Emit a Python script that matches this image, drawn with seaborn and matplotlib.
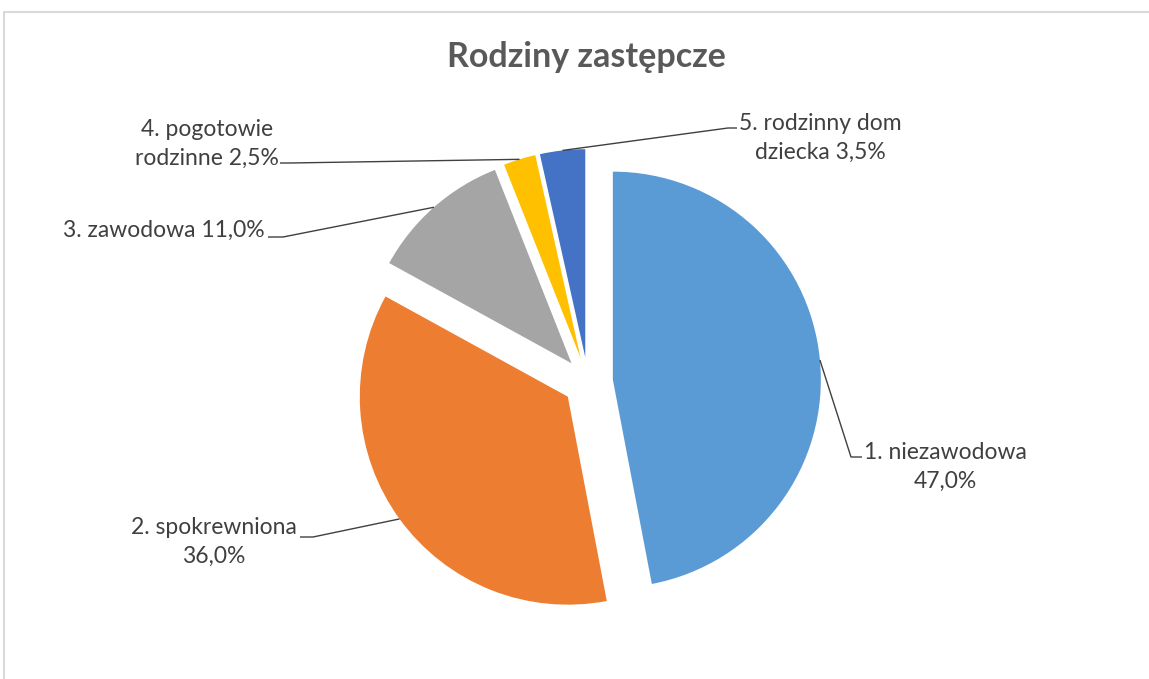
import matplotlib
matplotlib.use("Agg")
import matplotlib.pyplot as plt
import seaborn as sns
from matplotlib.patches import Rectangle
import numpy as np

# ---- data ----
categories = ["1. niezawodowa", "2. spokrewniona", "3. zawodowa",
              "4. pogotowie\nrodzinne", "5. rodzinny dom\ndziecka"]
values = [47.0, 36.0, 11.0, 2.5, 3.5]
title = "Rodziny zastępcze"

# ---- style ----
colors = ["#5B9BD5", "#ED7D31", "#A5A5A5", "#FFC000", "#4472C4"]
sns.set_theme(style="white")
plt.rcParams["font.family"] = ["Lato", "DejaVu Sans"]

W, H = 1149, 679
CX, CY, R = 588, 382, 208  # pixel layout of pie


def px(x, y):
    """pixel -> data coords (R px per unit)"""
    return (x - CX) / R, (CY - y) / R


fig = plt.figure(figsize=(W / 100, H / 100), dpi=100)
ax = fig.add_axes([0, 0, 1, 1])
wedges, _ = ax.pie(values, colors=colors, startangle=90, counterclock=False,
                   explode=[0.12] * len(values), radius=1.0,
                   wedgeprops=dict(linewidth=0))
ax.set_aspect("equal", adjustable="box")
x0, y1 = px(0, 0)
x1, y0 = px(W, H)
ax.set_xlim(x0, x1)
ax.set_ylim(y0, y1)
ax.axis("off")

# label layout: text anchor (px), alignment, elbow point (px), end point near text (px)
layout = [
    dict(text=(945, 467), ha="center", elbow=(851, 457), end=(862, 457), fmt="{c}\n{v}"),
    dict(text=(214, 542), ha="center", elbow=(313, 537), end=(300, 537), fmt="{c}\n{v}"),
    dict(text=(265, 230), ha="right", elbow=(283, 237), end=(268, 237), fmt="{c} {v}"),
    dict(text=(207, 144), ha="center", elbow=(290, 163), end=(280, 163), fmt="{c} {v}"),
    dict(text=(820, 138), ha="center", elbow=(728, 128), end=(737, 128), fmt="{c} {v}"),
]

txt_color = "#404040"
for w, cat, val, lay in zip(wedges, categories, values, layout):
    ang = np.deg2rad((w.theta1 + w.theta2) / 2)
    cx, cy = w.center
    ax_, ay_ = cx + w.r * np.cos(ang), cy + w.r * np.sin(ang)
    ex, ey = px(*lay["elbow"])
    nx, ny = px(*lay["end"])
    ax.plot([ax_, ex, nx], [ay_, ey, ny], color="#404040", lw=1.0,
            solid_capstyle="butt", zorder=3)
    vstr = f"{val:.1f}%".replace(".", ",")
    s = lay["fmt"].format(c=cat, v=vstr)
    tx, ty = px(*lay["text"])
    ax.text(tx, ty, s, ha=lay["ha"], va="center", multialignment="center",
            fontsize=16.5, color=txt_color, linespacing=1.5)

fig.text(586 / W, 1 - 57 / H, title, ha="center", va="center",
         fontsize=24.5, fontweight="bold", color="#595959")

# chart frame
fig.add_artist(Rectangle((4 / W, -0.1), 1.2, (H - 12) / H + 0.1,
                         transform=fig.transFigure, fill=False,
                         edgecolor="#D9D9D9", linewidth=1.5))

fig.savefig("out.png", dpi=100, facecolor="white")
